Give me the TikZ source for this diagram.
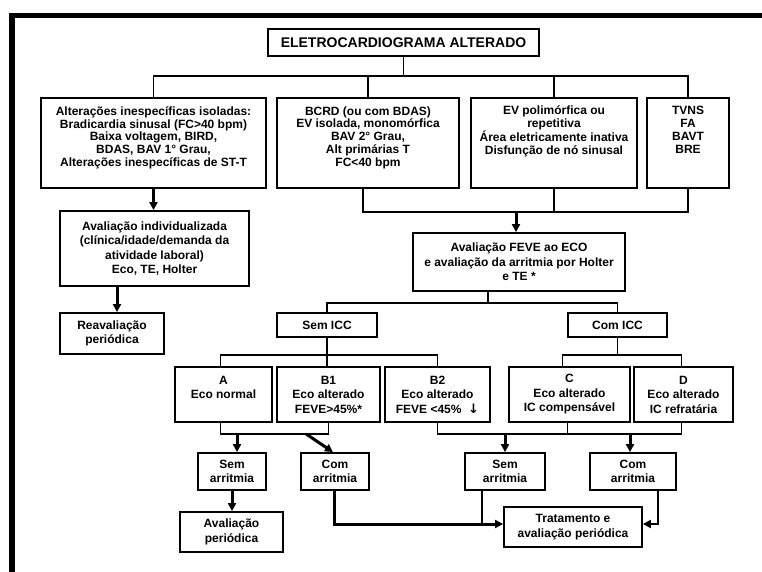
\documentclass[tikz,border=0pt]{standalone}
\usepackage{fontspec}
\setmainfont{Liberation Sans}
\newfontfamily\arrowfont{DejaVu Sans}
\usetikzlibrary{arrows.meta}

\begin{document}
\begin{tikzpicture}[x=1pt, y=-1pt,
    box/.style={draw, line width=1.8pt, align=center, inner sep=0pt,
      font=\bfseries\fontsize{12}{14.5}\selectfont},
    topbox/.style={box, minimum height=90pt,
      font=\bfseries\fontsize{12}{12.9}\selectfont},
    classbox/.style={box, minimum height=55pt},
    smallbox/.style={box, minimum height=37pt},
    link/.style={line width=1.8pt},
    arr/.style={line width=3pt, -{Triangle[length=8pt, width=8pt]}},
    thinarr/.style={line width=2pt, -{Triangle[length=8pt, width=8pt]}}]

  \useasboundingbox (0,0) rectangle (762,572);

  % Frame, top and left sides only
  \draw[line width=5.6pt, line join=miter] (762,15.5) -| (12,572);

  % Title and first row
  \node[box, minimum width=271pt, minimum height=27pt,
    font=\bfseries\fontsize{14}{16}\selectfont] (ecg) at (403.5,42.5)
    {ELETROCARDIOGRAMA ALTERADO};
  \node[topbox, minimum width=225pt] (alt) at (153.5,143)
    {Alterações inespecíficas isoladas:\\Bradicardia sinusal (FC>40 bpm)\\
     Baixa voltagem, BIRD,\\BDAS, BAV 1° Grau,\\Alterações inespecíficas de ST-T\\ \mbox{}};
  \node[topbox, minimum width=182pt] (bcrd) at (368,143)
    {BCRD (ou com BDAS)\\EV isolada, monomórfica\\BAV 2° Grau,\\Alt primárias T\\FC<40 bpm\\ \mbox{}};
  \node[topbox, minimum width=166pt] (evp) at (554,143)
    {EV polimórfica ou\\repetitiva\\Área eletricamente inativa\\Disfunção de nó sinusal\\ \mbox{}\\ \mbox{}};
  \node[topbox, minimum width=82pt] (tvns) at (688,143)
    {TVNS\\FA\\BAVT\\BRE\\ \mbox{}\\ \mbox{}};

  % Second stage
  \node[box, minimum width=189pt, minimum height=75pt] (indiv) at (154.5,248.5)
    {Avaliação individualizada\\(clínica/idade/demanda da\\atividade laboral)\\Eco, TE, Holter};
  \node[box, minimum width=104pt, minimum height=41pt] (reav) at (112,333.5)
    {Reavaliação\\periódica};
  \node[box, minimum width=212pt, minimum height=58pt] (feve) at (519,262)
    {Avaliação FEVE ao ECO\\e avaliação da arritmia por Holter\\e TE *};
  \node[box, minimum width=100pt, minimum height=24pt] (semicc) at (327,325) {Sem ICC};
  \node[box, minimum width=99pt, minimum height=24pt] (comicc) at (617.5,325) {Com ICC};

  % Classes A to D
  \node[classbox, minimum width=97pt] (clA) at (223.5,394.5) {A\\Eco normal\\ \mbox{}};
  \node[classbox, minimum width=103pt] (clB1) at (328.5,394.5) {B1\\Eco alterado\\FEVE>45\%*};
  \node[classbox, minimum width=105pt] (clB2) at (437.5,394.5)
    {B2\\Eco alterado\\FEVE <45\%\ \ {\arrowfont\bfseries\fontsize{13}{13}\selectfont ↓}};
  \node[classbox, minimum width=121pt] (clC) at (569.5,394.5) {C\\Eco alterado\\IC compensável};
  \node[classbox, minimum width=99pt] (clD) at (683.5,394.5) {D\\Eco alterado\\IC refratária};

  % Arrhythmia boxes and outcomes
  \node[smallbox, minimum width=68pt] (semA) at (232,471.5) {Sem\\arritmia};
  \node[smallbox, minimum width=68pt] (comA) at (335,471.5) {Com\\arritmia};
  \node[smallbox, minimum width=80pt] (semB) at (505,471.5) {Sem\\arritmia};
  \node[smallbox, minimum width=86pt] (comB) at (633,471.5) {Com\\arritmia};
  \node[box, minimum width=103pt, minimum height=40pt] (avalp) at (231.5,532)
    {Avaliação\\periódica};
  \node[box, minimum width=138pt, minimum height=40pt] (treat) at (573,527)
    {Tratamento e\\avaliação periódica};

  % Title to first row
  \draw[link] (ecg.south) -- ++(0,19) coordinate (hub1);
  \draw[link] (alt.north) |- (hub1) -| (tvns.north);
  \draw[link] (bcrd.north) -- (bcrd.north |- hub1);
  \draw[link] (evp.north) -- (evp.north |- hub1);

  % First row to second stage
  \draw[arr] (alt.south) -- (alt.south |- indiv.north);
  \draw[link] ([xshift=-5pt]bcrd.south) -- ++(0,23) coordinate (hub2) -| (tvns.south);
  \draw[link] (evp.south) -- (evp.south |- hub2);
  \draw[arr] ([xshift=-3pt]feve.north |- hub2) -- ([xshift=-3pt]feve.north);
  \draw[arr] ([xshift=5pt]reav.north |- indiv.south) -- ([xshift=5pt]reav.north);

  % FEVE to ICC
  \draw[link] ([xshift=-31pt]feve.south) -- ++(0,11) coordinate (hub3);
  \draw[link] (semicc.north) |- (hub3) -| (comicc.north);

  % ICC to classes
  \draw[link] (semicc.south) -- (semicc.south |- clB1.north);
  \path (semicc.south) ++(0,17) coordinate (hub4);
  \draw[link] ([xshift=-3pt]clA.north) |- (hub4) -| (clB2.north);
  \draw[link] (comicc.south) -- ++(0,17) coordinate (hub5);
  \draw[link] ([xshift=-7pt]clC.north) |- (hub5) -| ([xshift=-2pt]clD.north);

  % Classes A and B1 to arrhythmia
  \draw[link] ([xshift=-3pt]clA.south) -- ++(0,11) coordinate (hub6) -| (clB1.south);
  \draw[arr] ([xshift=5pt]semA.north |- hub6) -- ([xshift=5pt]semA.north);
  \draw[arr] ([xshift=-29pt]comA.north |- hub6) -- ([xshift=-2pt]comA.north);
  \draw[arr] (semA.south) -- (semA.south |- avalp.north);

  % Classes B2, C and D to arrhythmia
  \draw[link] (clB2.south) -- ++(0,11) coordinate (hub7) -| ([xshift=-2pt]clD.south);
  \draw[link] ([xshift=-2pt]clC.south) -- ([xshift=-2pt]clC.south |- hub7);
  \draw[arr] (semB.north |- hub7) -- (semB.north);
  \draw[arr] ([xshift=-3pt]comB.north |- hub7) -- ([xshift=-3pt]comB.north);

  % Arrhythmia to treatment
  \draw[arr] ([xshift=-1pt]comA.south) |- ([yshift=3pt]treat.west);
  \draw[link] ([xshift=-23pt]semB.south) -- ([xshift=-23pt]semB.south |- 0,524);
  \draw[thinarr] ([xshift=25pt]comB.south) |- ([yshift=3pt]treat.east);
\end{tikzpicture}
\end{document}
